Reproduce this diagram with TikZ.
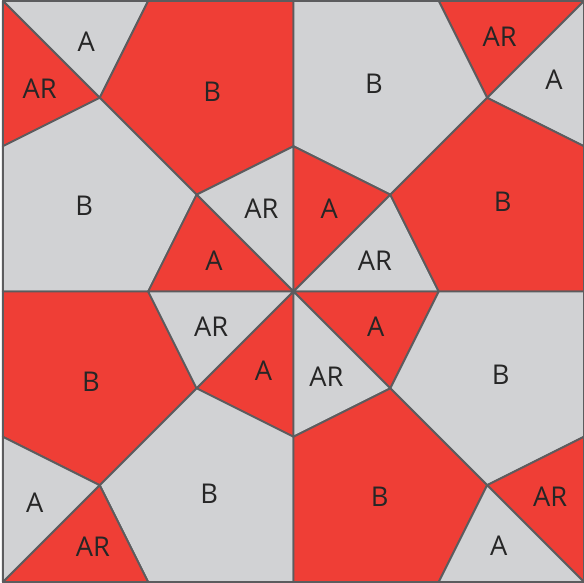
\documentclass[tikz,border=0pt]{standalone}
\usepackage{fontspec}
\setmainfont{Open Sans}
\usepackage{xcolor}
\usepackage{tikz}

\definecolor{tilered}{RGB}{239,62,54}
\definecolor{tilegray}{RGB}{209,210,212}
\definecolor{edgegray}{RGB}{92,92,94}

\begin{document}
\begin{tikzpicture}[
      x = 2cm, y = 2cm,
      font = \fontsize{16}{19}\selectfont,
      rtile/.style = {draw = edgegray, fill = tilered,  line width = 1.1pt, line join = round},
      gtile/.style = {draw = edgegray, fill = tilegray, line width = 1.1pt, line join = round},
      lab/.style   = {text = black!85, inner sep = 0pt}
    ]
  \useasboundingbox (-3.03,-3.00) rectangle (3.00,3.01);

  % top left -------------------------------------------------------------
  \draw[gtile] (-3,3) -- (-1.5,3) -- (-2,2) -- cycle;
  \draw[rtile] (-3,3) -- (-2,2) -- (-3,1.5) -- cycle;
  \draw[rtile] (-1.5,3) -- (0,3) -- (0,1.5) -- (-1,1) -- (-2,2) -- cycle;
  \draw[gtile] (-3,1.5) -- (-2,2) -- (-1,1) -- (-1.5,0) -- (-3,0) -- cycle;
  \draw[gtile] (-1,1) -- (0,1.5) -- (0,0) -- cycle;
  \draw[rtile] (-1,1) -- (0,0) -- (-1.5,0) -- cycle;

  % top right ------------------------------------------------------------
  \draw[rtile] (1.5,3) -- (3,3) -- (2,2) -- cycle;
  \draw[gtile] (3,3) -- (2,2) -- (3,1.5) -- cycle;
  \draw[gtile] (0,3) -- (1.5,3) -- (2,2) -- (1,1) -- (0,1.5) -- cycle;
  \draw[rtile] (0,1.5) -- (1,1) -- (0,0) -- cycle;
  \draw[gtile] (0,0) -- (1,1) -- (1.5,0) -- cycle;
  \draw[rtile] (2,2) -- (3,1.5) -- (3,0) -- (1.5,0) -- (1,1) -- cycle;

  % bottom left ----------------------------------------------------------
  \draw[rtile] (-3,0) -- (-1.5,0) -- (-1,-1) -- (-2,-2) -- (-3,-1.5) -- cycle;
  \draw[gtile] (-1.5,0) -- (0,0) -- (-1,-1) -- cycle;
  \draw[rtile] (0,0) -- (-1,-1) -- (0,-1.5) -- cycle;
  \draw[gtile] (-1,-1) -- (0,-1.5) -- (0,-3) -- (-1.5,-3) -- (-2,-2) -- cycle;
  \draw[gtile] (-3,-1.5) -- (-2,-2) -- (-3,-3) -- cycle;
  \draw[rtile] (-2,-2) -- (-1.5,-3) -- (-3,-3) -- cycle;

  % bottom right ---------------------------------------------------------
  \draw[rtile] (0,0) -- (1.5,0) -- (1,-1) -- cycle;
  \draw[gtile] (0,0) -- (1,-1) -- (0,-1.5) -- cycle;
  \draw[gtile] (1.5,0) -- (3,0) -- (3,-1.5) -- (2,-2) -- (1,-1) -- cycle;
  \draw[rtile] (0,-1.5) -- (1,-1) -- (2,-2) -- (1.5,-3) -- (0,-3) -- cycle;
  \draw[rtile] (2,-2) -- (3,-1.5) -- (3,-3) -- cycle;
  \draw[gtile] (2,-2) -- (3,-3) -- (1.5,-3) -- cycle;

  % labels ---------------------------------------------------------------
  \node[lab] (tlA)   at (-2.14, 2.58) {A};
  \node[lab] (tlAR)  at (-2.62, 2.09) {AR};
  \node[lab] (tlBr)  at (-0.84, 2.06) {B};
  \node[lab] (tlBg)  at (-2.16, 0.89) {B};
  \node[lab] (tlARg) at (-0.33, 0.85) {AR};
  \node[lab] (tlAr)  at (-0.82, 0.32) {A};

  \node[lab] (trAR)  at ( 2.13, 2.63) {AR};
  \node[lab] (trA)   at ( 2.69, 2.19) {A};
  \node[lab] (trBg)  at ( 0.83, 2.14) {B};
  \node[lab] (trAr)  at ( 0.37, 0.85) {A};
  \node[lab] (trARg) at ( 0.84, 0.32) {AR};
  \node[lab] (trBr)  at ( 2.16, 0.93) {B};

  \node[lab] (blBr)  at (-2.09,-0.93) {B};
  \node[lab] (blARg) at (-0.85,-0.36) {AR};
  \node[lab] (blAr)  at (-0.31,-0.82) {A};
  \node[lab] (blBg)  at (-0.87,-2.09) {B};
  \node[lab] (blAg)  at (-2.67,-2.18) {A};
  \node[lab] (blARr) at (-2.07,-2.64) {AR};

  \node[lab] (brAr)  at ( 0.85,-0.36) {A};
  \node[lab] (brARg) at ( 0.34,-0.88) {AR};
  \node[lab] (brBg)  at ( 2.14,-0.86) {B};
  \node[lab] (brBr)  at ( 0.89,-2.12) {B};
  \node[lab] (brARr) at ( 2.65,-2.12) {AR};
  \node[lab] (brAg)  at ( 2.12,-2.63) {A};

\end{tikzpicture}
\end{document}
